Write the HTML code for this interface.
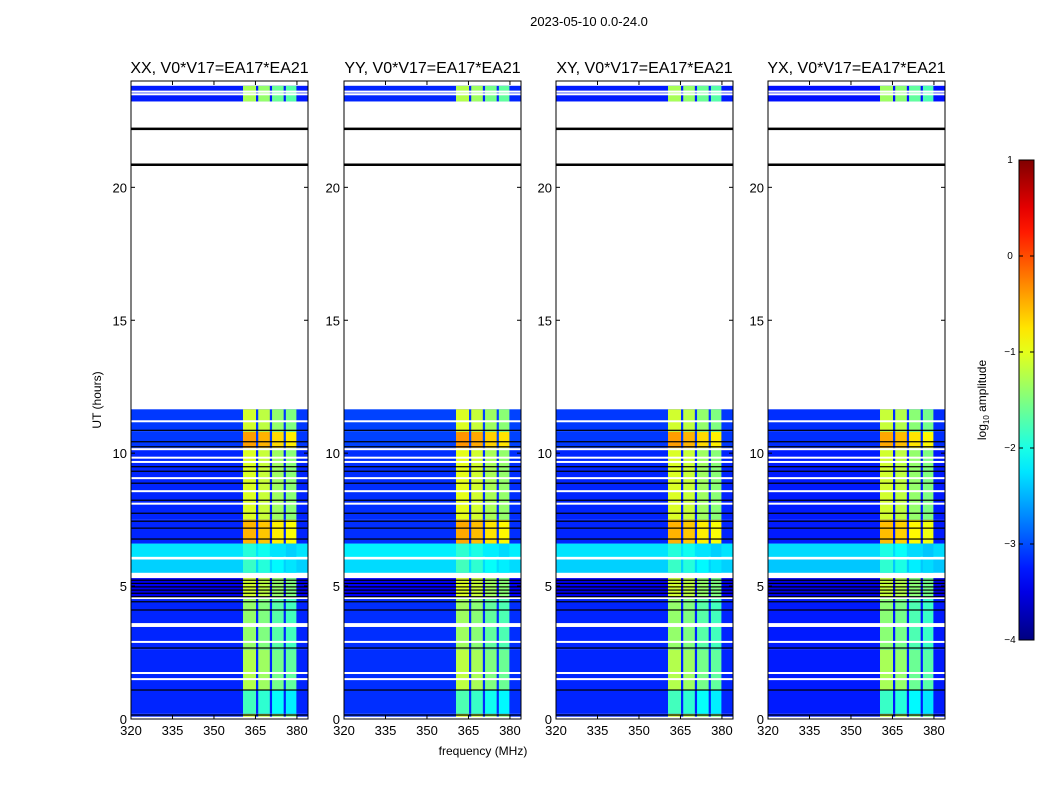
<!DOCTYPE html>
<html><head><meta charset="utf-8">
<style>
body{margin:0;background:#fff;font-family:"Liberation Sans",sans-serif;}
svg text{font-family:"Liberation Sans",sans-serif;}
</style></head>
<body>
<svg id="fig" width="1050" height="800" xmlns="http://www.w3.org/2000/svg">
<text x="589" y="26" font-size="13" text-anchor="middle">2023-05-10 0.0-24.0</text>
<text x="483" y="755" font-size="12" text-anchor="middle">frequency (MHz)</text>
<text x="0" y="0" font-size="12" text-anchor="middle" transform="translate(101,400) rotate(-90)">UT (hours)</text>
</svg>
<script>
// ---- data ----
const pols = ["XX","YY","XY","YX"];
const baseline = "V0*V17=EA17*EA21";
const polOffset = [0, 0.05, 0, -0.05];
const xTicks = [320,335,350,365,380];
const yTicks = [0,5,10,15,20];
const cbTicks = [1,0,-1,-2,-3,-4];
// time segments: start hour, end hour, background log amp
const segStart = [0.0,0.2,1.1,2.6,4.6,5.5,6.1,6.6,7.5,10.2,10.8,23.23];
const segEnd   = [0.2,1.1,2.6,4.6,5.3,6.0,6.6,7.5,10.2,10.8,11.65,23.82];
const segBg    = [-3.2,-3.2,-3.2,-3.2,-3.45,-2.35,-2.25,-3.2,-3.2,-3.1,-3.1,-3.25];
// RFI band level (log amp) per segment
const segBand  = [-1.2,-1.9,-1.35,-1.5,-1.2,-1.95,-2.05,-0.6,-1.15,-0.5,-1.2,-1.4];
// subbands (MHz) and relative level offsets
const subStart = [360.5,366.0,371.0,376.0];
const subEnd   = [365.2,370.2,375.2,379.8];
const subOff   = [0.1,0.0,-0.2,-0.3];
// flag lines (hours)
const whiteLines = [23.6,23.5,11.2,10.15,9.83,9.67,9.06,8.57,8.1,6.05,5.4,4.55,3.57,3.5,2.9,1.73,1.5,0.05];
const blackLines = [22.2,20.85,10.86,10.43,10.24,9.49,9.32,8.87,8.23,7.74,7.44,7.18,6.77,5.22,5.1,4.97,4.85,4.73,4.6,4.41,4.1,2.67,1.09,0.15];

const svg = document.getElementById('fig');
const NS = "http://www.w3.org/2000/svg";
function el(tag, attrs, parent){const e=document.createElementNS(NS,tag);for(const k in attrs)e.setAttribute(k,attrs[k]);(parent||svg).appendChild(e);return e;}
function jet(v){let t=(v+4)/5;t=Math.max(0,Math.min(1,t));
 const c=x=>Math.round(255*Math.max(0,Math.min(1,x)));
 return `rgb(${c(1.5-Math.abs(4*t-3))},${c(1.5-Math.abs(4*t-2))},${c(1.5-Math.abs(4*t-1))})`;}

const panelX=[131,344,556,768], PW=177, PT=81, PB=719;
const fMin=320,fMax=384,tMin=0,tMax=24;
pols.forEach((p,i)=>{
 const x0=panelX[i];
 const X=f=>x0+(f-fMin)/(fMax-fMin)*PW;
 const Y=h=>PB-(h-tMin)/(tMax-tMin)*(PB-PT);
 const g=el('g',{});
 
 
 el('rect',{x:x0,y:PT,width:PW,height:PB-PT,fill:'#fff'},g);
 segStart.forEach((s,k)=>{
  const r=el('rect',{x:x0,y:Y(segEnd[k]),width:PW,height:Y(s)-Y(segEnd[k]),fill:jet(segBg[k]+polOffset[i])},g);
  
  
  subStart.forEach((a,j)=>{
   const c=el('rect',{x:X(a),y:Y(segEnd[k]),width:X(subEnd[j])-X(a),height:Y(s)-Y(segEnd[k]),fill:jet(segBand[k]+subOff[j]+polOffset[i])},g);
   
   
  });
 });
 whiteLines.forEach(h=>{const l=el('rect',{x:x0,y:Y(h)-1,width:PW,height:2,fill:'#fff'},g);
  
  });
 blackLines.forEach(h=>{const w=(h>20)?2.5:1.2;const l=el('rect',{x:x0,y:Y(h)-w/2,width:PW,height:w,fill:'#000'},g);
  
  });
 el('rect',{x:x0,y:PT,width:PW,height:PB-PT,fill:'none',stroke:'#000','stroke-width':1},g);
 xTicks.forEach(t=>{const x=X(t);
  el('line',{x1:x,x2:x,y1:PB,y2:PB-4,stroke:'#000'},g);
  el('line',{x1:x,x2:x,y1:PT,y2:PT+4,stroke:'#000'},g);
  const tx=el('text',{x:x,y:PB+16,'font-size':13,'text-anchor':'middle'},g);tx.textContent=t;
  
  });
 yTicks.forEach(t=>{const y=Y(t);
  el('line',{x1:x0,x2:x0+4,y1:y,y2:y,stroke:'#000'},g);
  el('line',{x1:x0+PW,x2:x0+PW-4,y1:y,y2:y,stroke:'#000'},g);
  const tx=el('text',{x:x0-4,y:y+5,'font-size':13,'text-anchor':'end'},g);tx.textContent=t;
  
  });
 const tt=el('text',{x:x0+PW/2,y:73,'font-size':16,'text-anchor':'middle'},g);
 tt.textContent=p+", "+baseline;
 
 
});

// colorbar
const cb=el('g',{});


const defs=el('defs',{});
const lg=el('linearGradient',{id:'jetg',x1:0,y1:1,x2:0,y2:0},defs);
for(let k=0;k<=20;k++){el('stop',{offset:k/20,'stop-color':jet(-4+5*k/20)},lg);}
const cbT=160,cbB=640,cbX=1019,cbW=15;
el('rect',{x:cbX,y:cbT,width:cbW,height:cbB-cbT,fill:'url(#jetg)',stroke:'#000'},cb);
cbTicks.forEach(v=>{const y=cbB-(v+4)/5*(cbB-cbT);
 el('line',{x1:cbX,x2:cbX+4,y1:y,y2:y,stroke:'#000'},cb);
 el('line',{x1:cbX+cbW,x2:cbX+cbW-4,y1:y,y2:y,stroke:'#000'},cb);
 const t=el('text',{x:1010,y:y+3,'font-size':10,'text-anchor':'middle'},cb);
 t.textContent=(v<0?'\u2212'+(-v):v);
 
 });
const cl=el('text',{x:0,y:0,'font-size':12,'text-anchor':'middle',transform:'translate(986,400) rotate(-90)'},cb);
cl.innerHTML='log<tspan font-size="8" dy="3">10</tspan><tspan dy="-3"> amplitude</tspan>';


</script>
</body></html>
